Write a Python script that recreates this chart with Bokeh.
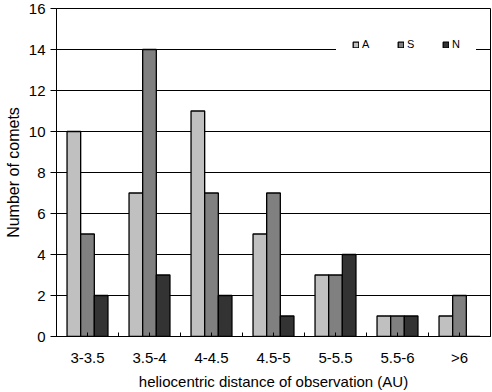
from bokeh.plotting import figure
from bokeh.models import Range1d, FixedTicker
from bokeh.embed import file_html
from bokeh.resources import INLINE

categories = ["3-3.5", "3.5-4", "4-4.5", "4.5-5", "5-5.5", "5.5-6", ">6"]
series_names = ["A", "S", "N"]
A = [10, 7, 11, 5, 3, 1, 1]
S = [5, 14, 7, 7, 3, 1, 2]
N = [2, 3, 2, 1, 4, 1, 0]
series_values = [A, S, N]
colors = ["#c0c0c0", "#808080", "#333333"]
y_ticks = list(range(0, 17, 2))

FONT = "Liberation Sans"

p = figure(width=492, height=392, output_backend="svg", toolbar_location=None,
           x_range=Range1d(0.5, len(categories) + 0.5), y_range=Range1d(0, 16),
           min_border_left=56, min_border_right=2, min_border_top=8,
           min_border_bottom=56)

p.outline_line_color = "black"
p.outline_line_width = 1
p.outline_line_alpha = 1
p.background_fill_color = "white"
p.border_fill_color = "white"

xs = list(range(1, len(categories) + 1))
bw = 0.22
for k, (name, vals, col) in enumerate(zip(series_names, series_values, colors)):
    off = (k - 1) * bw
    p.vbar(x=[x + off for x in xs], top=vals, width=bw, bottom=0,
           fill_color=col, line_color="black", line_width=1.3,
           legend_label=name)

# grid
p.xgrid.visible = False
p.ygrid.ticker = FixedTicker(ticks=y_ticks)
p.ygrid.grid_line_color = "black"
p.ygrid.grid_line_width = 1

# y axis
ya = p.yaxis[0]
ya.ticker = FixedTicker(ticks=y_ticks)
ya.axis_label = "Number of comets"
ya.axis_label_text_font = FONT
ya.axis_label_text_font_size = "16px"
ya.axis_label_text_font_style = "normal"
ya.axis_label_text_color = "black"
ya.axis_label_standoff = 4
ya.major_label_text_font = FONT
ya.major_label_text_font_size = "15px"
ya.major_label_text_color = "black"
ya.major_label_standoff = 5
ya.major_tick_in = 0
ya.major_tick_out = 6
ya.minor_tick_line_color = None
ya.axis_line_color = "black"
ya.major_tick_line_color = "black"

# x axis
xa = p.xaxis[0]
xa.ticker = FixedTicker(ticks=xs, minor_ticks=[x * 0.5 for x in range(1, 2 * len(categories) + 2)])
xa.major_label_overrides = {x: c for x, c in zip(xs, categories)}
xa.axis_label = "heliocentric distance of observation (AU)"
xa.axis_label_text_font = FONT
xa.axis_label_text_font_size = "15px"
xa.axis_label_text_font_style = "normal"
xa.axis_label_text_color = "black"
xa.axis_label_standoff = 4
xa.major_label_text_font = FONT
xa.major_label_text_font_size = "15px"
xa.major_label_text_color = "black"
xa.major_label_standoff = 12
xa.major_tick_in = 0
xa.major_tick_out = 0
xa.minor_tick_in = 4
xa.minor_tick_out = 0
xa.minor_tick_line_color = "black"
xa.axis_line_color = "black"

# legend
lg = p.legend[0]
lg.orientation = "horizontal"
lg.location = "top_right"
lg.border_line_color = "white"
lg.border_line_alpha = 1
lg.background_fill_color = "white"
lg.background_fill_alpha = 1
lg.label_text_font = FONT
lg.label_text_font_size = "11px"
lg.label_text_color = "black"
lg.glyph_width = 7
lg.glyph_height = 7
lg.label_standoff = 3
lg.label_height = 9
lg.label_width = 8
lg.spacing = 27
lg.padding = 15
lg.margin = 14

open("out.html", "w").write(file_html(p, INLINE))
